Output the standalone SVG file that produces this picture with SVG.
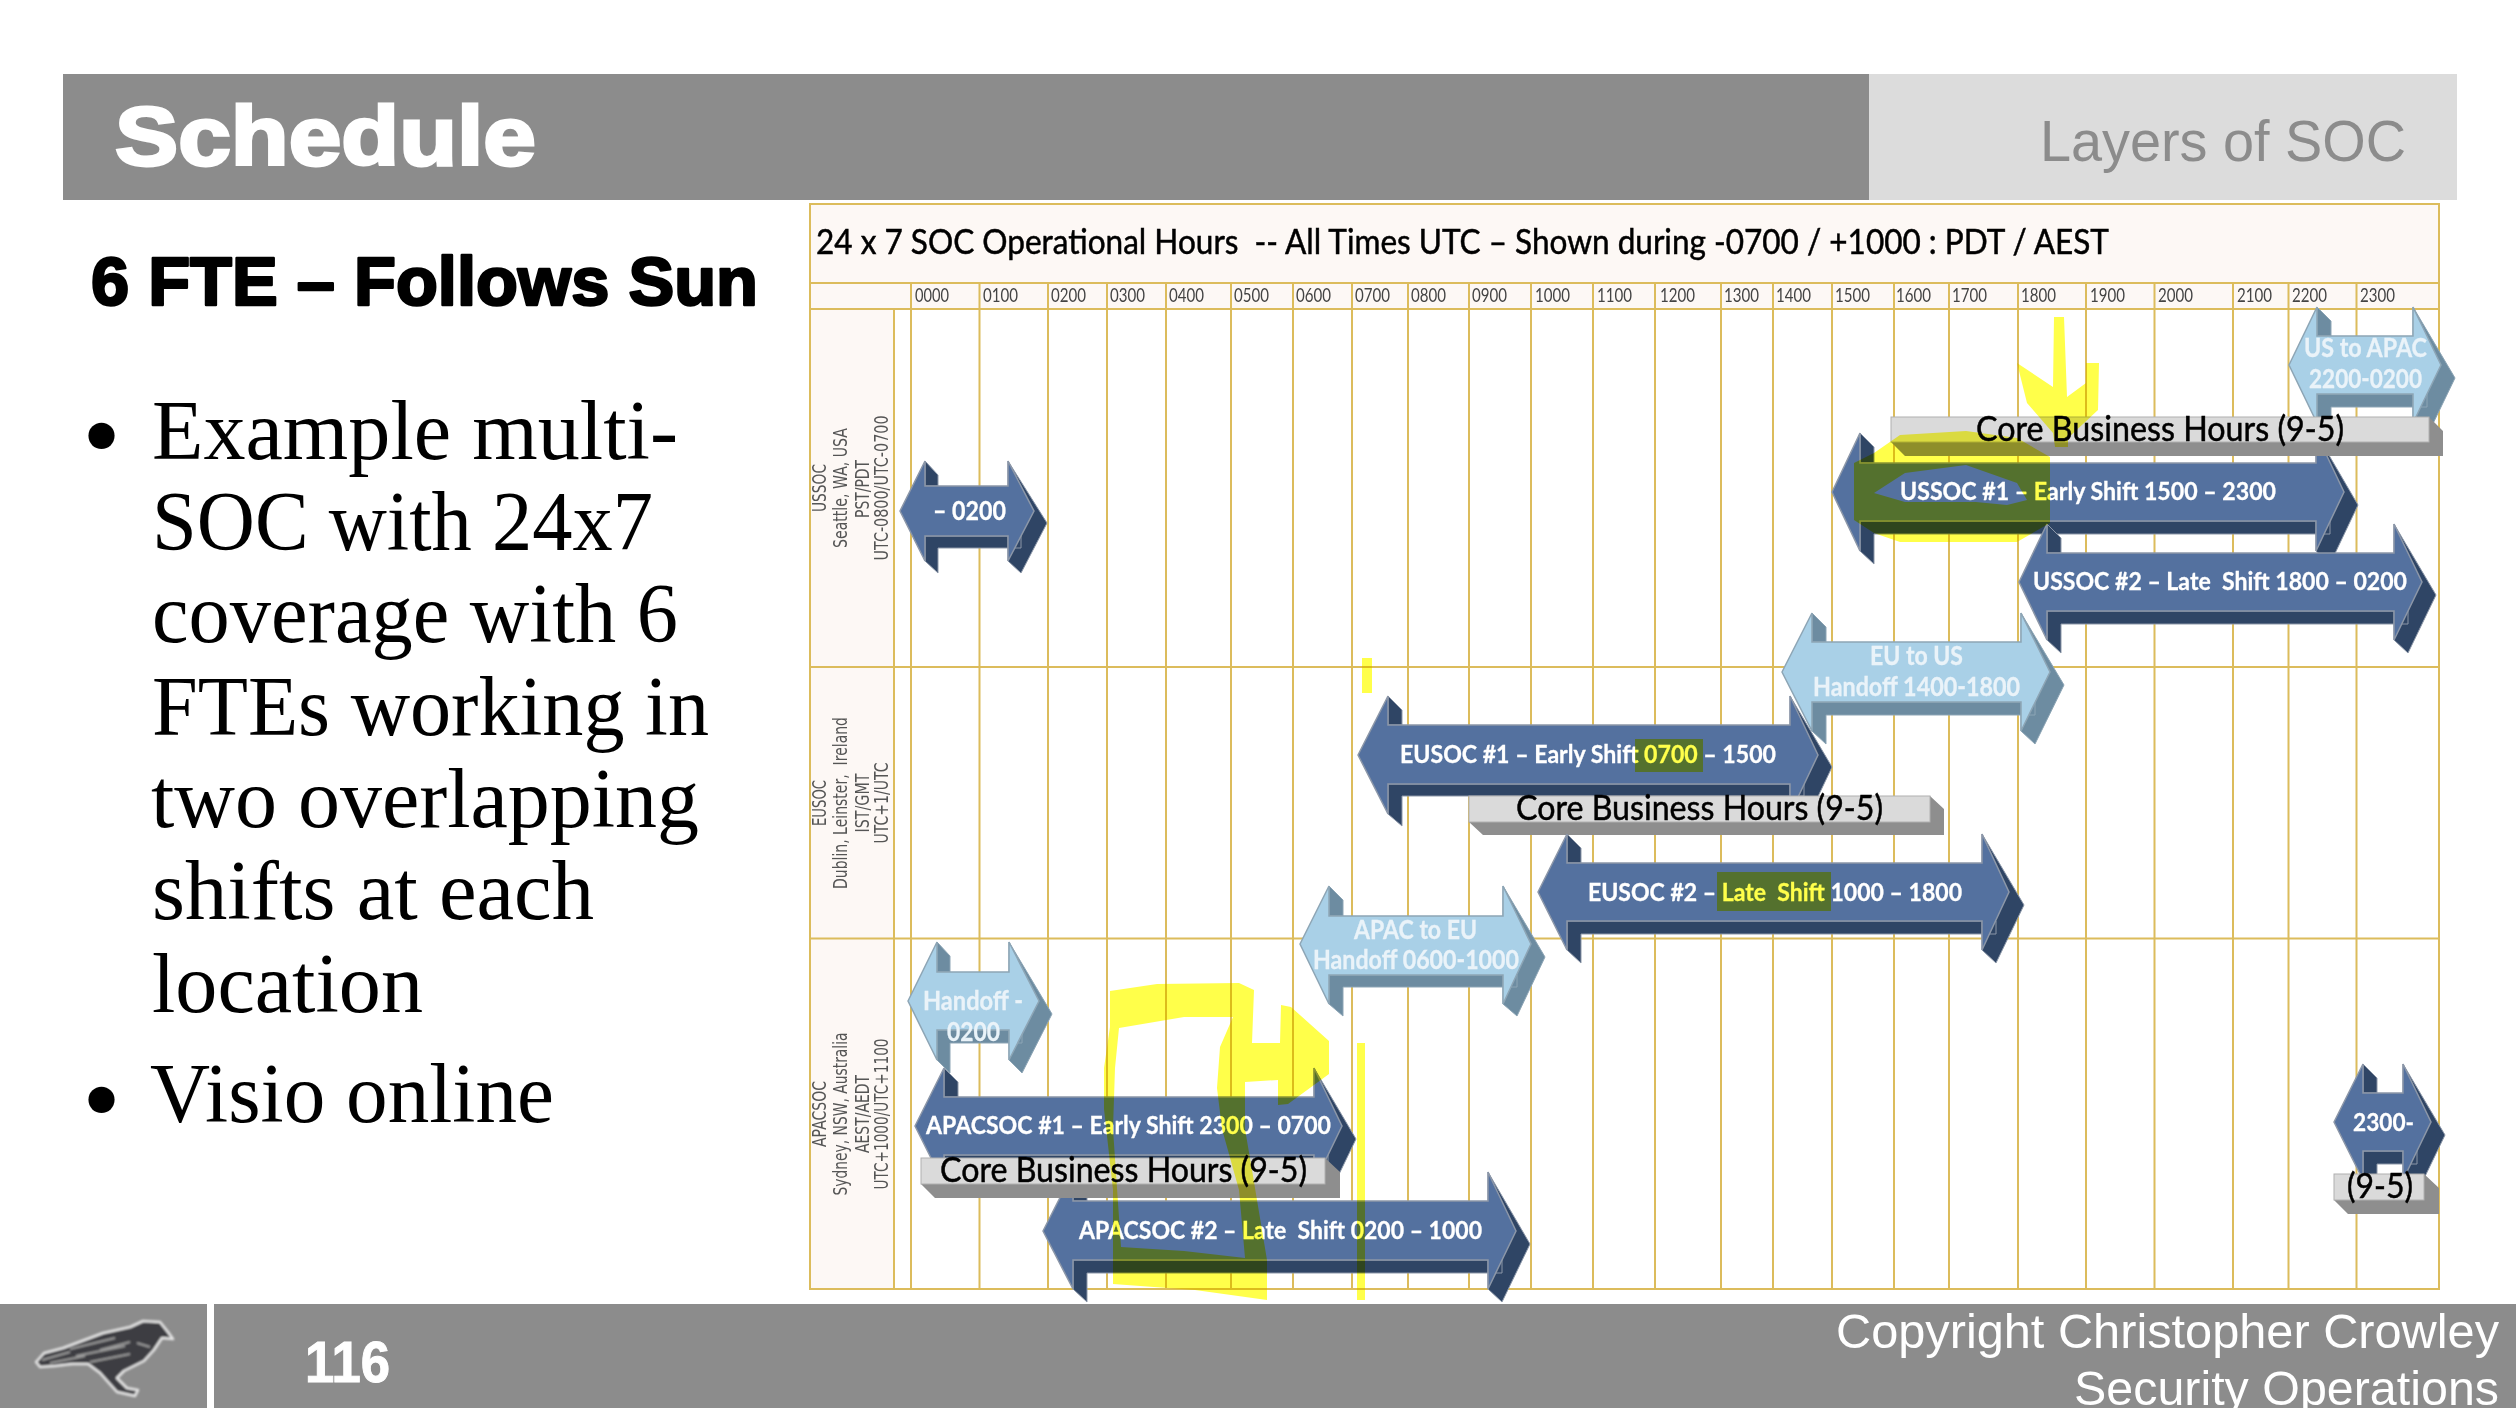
<svg xmlns="http://www.w3.org/2000/svg" width="2516" height="1408" viewBox="0 0 2516 1408">
<defs><filter id="soft" x="-10%" y="-10%" width="120%" height="120%"><feGaussianBlur stdDeviation="0.8"/></filter></defs>
<style>
.sans{font-family:"Liberation Sans",Arial,sans-serif}
.serif{font-family:"Liberation Serif","Times New Roman",serif;font-size:84px;fill:#000}
.lato{font-family:Lato,"Noto Sans",sans-serif}
.grid{stroke:#dcbc5c;stroke-width:2;fill:none}
.hr{font-family:Lato,"Noto Sans",sans-serif;font-size:20px;fill:#444}
.loc{font-family:"DejaVu Sans",Verdana,sans-serif;font-size:19px;fill:#555}
.f{fill:#54719f;stroke:#8c97a8;stroke-width:1.5}
.d{fill:#2f4565;stroke:#8c97a8;stroke-width:1}
.lf{fill:#a9d0e7;stroke:#8da5b5;stroke-width:1.5}
.ld{fill:#6d8ca1;stroke:#8da5b5;stroke-width:1}
.t{font-family:Lato,"Noto Sans",sans-serif;font-weight:700;font-size:25px;fill:#fff;stroke:#fff;stroke-width:.3}
.lt{font-family:Lato,"Noto Sans",sans-serif;font-weight:700;font-size:27px;fill:#eaf3f9;stroke:#eaf3f9;stroke-width:.3}
.cf{fill:#dadada;stroke:#b0b0b0;stroke-width:1}
.cd{fill:#8e8e8e}
.ct{font-family:Lato,"Noto Sans",sans-serif;font-size:35px;fill:#000;stroke:#000;stroke-width:.5}
.hl{fill:#ffff4a;mix-blend-mode:multiply}
</style>
<rect width="2516" height="1408" fill="#fff"/>
<g id="header">
<rect x="63" y="74" width="1806" height="126" fill="#8c8c8c"/>
<rect x="1869" y="74" width="588" height="126" fill="#dcdcdc"/>
<text class="sans" x="115" y="165" font-size="84" font-weight="700" fill="#fff" stroke="#fff" stroke-width="3" textLength="421" lengthAdjust="spacingAndGlyphs">Schedule</text>
<text class="sans" x="2040" y="160.500" font-size="57" fill="#8c8c8c" textLength="366" lengthAdjust="spacingAndGlyphs">Layers of SOC</text>
</g>
<g id="left-text">
<text class="sans" x="91" y="305" font-size="69" font-weight="700" fill="#000" stroke="#000" stroke-width="2.5" stroke-linejoin="round" textLength="667" lengthAdjust="spacingAndGlyphs">6 FTE – Follows Sun</text>
<text class="serif" x="101.500" y="472" text-anchor="middle" style="font-size:110px">•</text>
<text class="serif" x="152" y="458.500" textLength="526" lengthAdjust="spacingAndGlyphs">Example multi-</text>
<text class="serif" x="152" y="550" textLength="501" lengthAdjust="spacingAndGlyphs">SOC with 24x7</text>
<text class="serif" x="152" y="642" textLength="526" lengthAdjust="spacingAndGlyphs">coverage with 6</text>
<text class="serif" x="152" y="734.500" textLength="557" lengthAdjust="spacingAndGlyphs">FTEs working in</text>
<text class="serif" x="151" y="826.500" textLength="548" lengthAdjust="spacingAndGlyphs">two overlapping</text>
<text class="serif" x="152" y="919" textLength="442" lengthAdjust="spacingAndGlyphs">shifts at each</text>
<text class="serif" x="152" y="1011.500" textLength="271" lengthAdjust="spacingAndGlyphs">location</text>
<text class="serif" x="101.500" y="1136" text-anchor="middle" style="font-size:110px">•</text>
<text class="serif" x="150" y="1122" textLength="404" lengthAdjust="spacingAndGlyphs">Visio online</text>
</g>
<g id="table">
<rect x="810" y="204" width="1629" height="105" fill="#fdf8f5"/>
<rect x="810" y="309" width="84" height="980" fill="#fdf8f5"/>
<path class="grid" d="M810 204H2439V1289H810ZM810 283H2439M810 309H2439M810 667H2439M810 938.500H2439M894 309V1289"/>
<path class="grid" d="M911 283V1289M979.500 283V1289M1048 283V1289M1107 283V1289M1166 283V1289M1231 283V1289M1293 283V1289M1352 283V1289M1408 283V1289M1469 283V1289M1531 283V1289M1593 283V1289M1655 283V1289M1721 283V1289M1773 283V1289M1832 283V1289M1894 283V1289M1949 283V1289M2018 283V1289M2086 283V1289M2154.500 283V1289M2233 283V1289M2288.500 283V1289M2356.500 283V1289"/>
<text class="lato" x="816" y="254" font-size="35" fill="#000" stroke="#000" stroke-width=".5" textLength="1293" lengthAdjust="spacingAndGlyphs" style="white-space:pre">24 x 7 SOC Operational Hours  -- All Times UTC – Shown during -0700 / +1000 : PDT / AEST</text>
<g class="hr">
<text x="915" y="302" textLength="34" lengthAdjust="spacingAndGlyphs">0000</text>
<text x="983" y="302" textLength="35" lengthAdjust="spacingAndGlyphs">0100</text>
<text x="1051" y="302" textLength="35" lengthAdjust="spacingAndGlyphs">0200</text>
<text x="1110" y="302" textLength="35" lengthAdjust="spacingAndGlyphs">0300</text>
<text x="1169" y="302" textLength="35" lengthAdjust="spacingAndGlyphs">0400</text>
<text x="1234" y="302" textLength="35" lengthAdjust="spacingAndGlyphs">0500</text>
<text x="1296" y="302" textLength="35" lengthAdjust="spacingAndGlyphs">0600</text>
<text x="1355" y="302" textLength="35" lengthAdjust="spacingAndGlyphs">0700</text>
<text x="1411" y="302" textLength="35" lengthAdjust="spacingAndGlyphs">0800</text>
<text x="1472" y="302" textLength="35" lengthAdjust="spacingAndGlyphs">0900</text>
<text x="1535" y="302" textLength="35" lengthAdjust="spacingAndGlyphs">1000</text>
<text x="1597" y="302" textLength="35" lengthAdjust="spacingAndGlyphs">1100</text>
<text x="1660" y="302" textLength="35" lengthAdjust="spacingAndGlyphs">1200</text>
<text x="1724" y="302" textLength="35" lengthAdjust="spacingAndGlyphs">1300</text>
<text x="1776" y="302" textLength="35" lengthAdjust="spacingAndGlyphs">1400</text>
<text x="1835" y="302" textLength="35" lengthAdjust="spacingAndGlyphs">1500</text>
<text x="1896" y="302" textLength="35" lengthAdjust="spacingAndGlyphs">1600</text>
<text x="1952" y="302" textLength="35" lengthAdjust="spacingAndGlyphs">1700</text>
<text x="2021" y="302" textLength="35" lengthAdjust="spacingAndGlyphs">1800</text>
<text x="2090" y="302" textLength="35" lengthAdjust="spacingAndGlyphs">1900</text>
<text x="2158" y="302" textLength="35" lengthAdjust="spacingAndGlyphs">2000</text>
<text x="2237" y="302" textLength="35" lengthAdjust="spacingAndGlyphs">2100</text>
<text x="2292" y="302" textLength="35" lengthAdjust="spacingAndGlyphs">2200</text>
<text x="2360" y="302" textLength="35" lengthAdjust="spacingAndGlyphs">2300</text>
</g>
<g class="loc" text-anchor="middle">
<text transform="translate(826 488) rotate(-90)" textLength="48" lengthAdjust="spacingAndGlyphs">USSOC</text>
<text transform="translate(847 488) rotate(-90)" textLength="120" lengthAdjust="spacingAndGlyphs">Seattle, WA, USA</text>
<text transform="translate(869 489) rotate(-90)" textLength="58" lengthAdjust="spacingAndGlyphs">PST/PDT</text>
<text transform="translate(888 488) rotate(-90)" textLength="145" lengthAdjust="spacingAndGlyphs">UTC-0800/UTC-0700</text>
<text transform="translate(826 803) rotate(-90)" textLength="46" lengthAdjust="spacingAndGlyphs">EUSOC</text>
<text transform="translate(847 803) rotate(-90)" textLength="172" lengthAdjust="spacingAndGlyphs" style="white-space:pre">Dublin, Leinster,  Ireland</text>
<text transform="translate(869 803) rotate(-90)" textLength="59" lengthAdjust="spacingAndGlyphs">IST/GMT</text>
<text transform="translate(888 803) rotate(-90)" textLength="81" lengthAdjust="spacingAndGlyphs">UTC+1/UTC</text>
<text transform="translate(826 1114) rotate(-90)" textLength="66" lengthAdjust="spacingAndGlyphs">APACSOC</text>
<text transform="translate(847 1114) rotate(-90)" textLength="163" lengthAdjust="spacingAndGlyphs">Sydney, NSW, Australia</text>
<text transform="translate(869 1114) rotate(-90)" textLength="78" lengthAdjust="spacingAndGlyphs">AEST/AEDT</text>
<text transform="translate(888 1114) rotate(-90)" textLength="151" lengthAdjust="spacingAndGlyphs">UTC+1000/UTC+1100</text>
</g>
</g>
<g id="arrow-ussoc-wrap">
<path class="d" d="M925 461L938 475V486H925ZM1008 461L1047 523L1021 573L1008 561ZM925 536H1021V548H938V573L925 561Z"/>
<path class="f" d="M900 511L925 461V486H1008V461L1034 511L1008 561V536H925V561Z"/>
<text class="t" x="933" y="520" textLength="73" lengthAdjust="spacingAndGlyphs" style="font-size:27px">– 0200</text>
</g>
<g id="arrow-us-to-apac">
<path class="ld" d="M2317 307L2331 321V336H2317ZM2413 307L2455 378L2427 436L2413 423ZM2317 394H2427V407H2331V436L2317 423Z"/>
<path class="lf" d="M2289 365L2317 307V336H2413V307L2441 365L2413 423V394H2317V423Z"/>
<text class="lt" x="2304" y="357" textLength="123" lengthAdjust="spacingAndGlyphs">US to APAC</text>
<text class="lt" x="2309" y="388" textLength="113" lengthAdjust="spacingAndGlyphs">2200-0200</text>
</g>
<g id="arrow-eusoc-1">
<path class="d" d="M1388 696L1402 710V725H1388ZM1790 696L1832 767L1804 826L1790 814ZM1388 784H1804V796H1402V826L1388 814Z"/>
<path class="f" d="M1358 755L1388 696V725H1790V696L1818 755L1790 814V784H1388V814Z"/>
<text class="t" x="1400" y="763" textLength="376" lengthAdjust="spacingAndGlyphs">EUSOC #1 – Early Shift 0700 – 1500</text>
</g>
<g id="arrow-eu-to-us">
<path class="ld" d="M1812 613L1826 627V642H1812ZM2021 613L2064 685L2035 744L2021 731ZM1812 702H2035V715H1826V744L1812 731Z"/>
<path class="lf" d="M1782 672L1812 613V642H2021V613L2050 672L2021 731V702H1812V731Z"/>
<text class="lt" x="1870" y="665" textLength="93" lengthAdjust="spacingAndGlyphs">EU to US</text>
<text class="lt" x="1813" y="696" textLength="207" lengthAdjust="spacingAndGlyphs">Handoff 1400-1800</text>
</g>
<g id="arrow-ussoc-1">
<path class="d" d="M1860 433L1874 447V463H1860ZM2316 433L2358 505L2330 564L2316 551ZM1860 521H2330V534H1874V564L1860 551Z"/>
<path class="f" d="M1832 492L1860 433V463H2316V433L2344 492L2316 551V521H1860V551Z"/>
<text class="t" x="1900" y="500" textLength="376" lengthAdjust="spacingAndGlyphs">USSOC #1 – Early Shift 1500 – 2300</text>
</g>
<g id="arrow-ussoc-2">
<path class="d" d="M2047 524L2061 538V553H2047ZM2394 524L2436 595L2408 653L2394 640ZM2047 611H2408V624H2061V653L2047 640Z"/>
<path class="f" d="M2019 582L2047 524V553H2394V524L2422 582L2394 640V611H2047V640Z"/>
<text class="t" x="2033" y="590" textLength="374" lengthAdjust="spacingAndGlyphs" style="white-space:pre">USSOC #2 – Late  Shift 1800 – 0200</text>
</g>
<g id="core-us">
<path class="cd" d="M1891 442L1905 456H2443V431L2429 417V442Z"/>
<rect class="cf" x="1891" y="417" width="538" height="25"/>
<text class="ct" x="1976" y="441" textLength="368" lengthAdjust="spacingAndGlyphs">Core Business Hours (9-5)</text>
</g>
<g id="core-eu">
<path class="cd" d="M1469 822L1483 835H1944V809L1930 796V822Z"/>
<rect class="cf" x="1469" y="796" width="461" height="26"/>
<text class="ct" x="1516" y="820" textLength="367" lengthAdjust="spacingAndGlyphs">Core Business Hours (9-5)</text>
</g>
<g id="arrow-apac-to-eu">
<path class="ld" d="M1329 886L1343 900V916H1329ZM1503 886L1545 957L1517 1016L1503 1004ZM1329 975H1517V987H1343V1016L1329 1004Z"/>
<path class="lf" d="M1300 944L1329 886V916H1503V886L1531 944L1503 1004V975H1329V1004Z"/>
<text class="lt" x="1354" y="939" textLength="123" lengthAdjust="spacingAndGlyphs">APAC to EU</text>
<text class="lt" x="1313" y="969" textLength="206" lengthAdjust="spacingAndGlyphs">Handoff 0600-1000</text>
</g>
<g id="arrow-eusoc-2">
<path class="d" d="M1567 834L1581 848V863H1567ZM1982 834L2024 905L1996 963L1982 950ZM1567 921H1996V934H1581V963L1567 950Z"/>
<path class="f" d="M1538 892L1567 834V863H1982V834L2009 892L1982 950V921H1567V950Z"/>
<text class="t" x="1588" y="901" textLength="374" lengthAdjust="spacingAndGlyphs" style="white-space:pre">EUSOC #2 – Late  Shift 1000 – 1800</text>
</g>
<g id="arrow-handoff">
<path class="ld" d="M937 942L950 956V972H937ZM1009 942L1052 1014L1022 1073L1009 1060ZM937 1030H1022V1043H950V1073L937 1060Z"/>
<path class="lf" d="M908 1001L937 942V972H1009V942L1039 1001L1009 1060V1030H937V1060Z"/>
<text class="lt" x="923" y="1010" textLength="100" lengthAdjust="spacingAndGlyphs">Handoff -</text>
<text class="lt" x="947" y="1041" textLength="53" lengthAdjust="spacingAndGlyphs">0200</text>
</g>
<g id="arrow-apacsoc-2">
<path class="d" d="M1073 1172L1087 1186V1201H1073ZM1488 1172L1530 1244L1502 1302L1488 1289ZM1073 1260H1502V1273H1087V1302L1073 1289Z"/>
<path class="f" d="M1043 1231L1073 1172V1201H1488V1172L1516 1231L1488 1289V1260H1073V1289Z"/>
<text class="t" x="1079" y="1239" textLength="403" lengthAdjust="spacingAndGlyphs" style="white-space:pre">APACSOC #2 – Late  Shift 0200 – 1000</text>
</g>
<g id="arrow-apacsoc-1">
<path class="d" d="M944 1068L958 1082V1097H944ZM1314 1068L1356 1139L1328 1197L1314 1184ZM944 1155H1328V1168H958V1197L944 1184Z"/>
<path class="f" d="M915 1126L944 1068V1097H1314V1068L1342 1126L1314 1184V1155H944V1184Z"/>
<text class="t" x="926" y="1134" textLength="405" lengthAdjust="spacingAndGlyphs">APACSOC #1 – Early Shift 2300 – 0700</text>
</g>
<g id="core-apac">
<path class="cd" d="M921 1184L935 1198H1340V1172L1325 1158V1184Z"/>
<rect class="cf" x="921" y="1158" width="404" height="26"/>
<text class="ct" x="940" y="1182" textLength="367" lengthAdjust="spacingAndGlyphs">Core Business Hours (9-5)</text>
</g>
<g id="arrow-2300">
<path class="d" d="M2363 1064L2377 1078V1093H2363ZM2403 1064L2445 1135L2417 1193L2403 1180ZM2363 1151H2417V1164H2377V1193L2363 1180Z"/>
<path class="f" d="M2334 1122L2363 1064V1093H2403V1064L2431 1122L2403 1180V1151H2363V1180Z"/>
<text class="t" x="2353" y="1131" textLength="61" lengthAdjust="spacingAndGlyphs">2300-</text>
</g>
<g id="core-small">
<path class="cd" d="M2334 1200L2348 1214H2439V1188L2424 1174V1200Z"/>
<rect class="cf" x="2334" y="1174" width="90" height="26"/>
<text class="ct" x="2347" y="1198" textLength="66" lengthAdjust="spacingAndGlyphs">(9-5)</text>
</g>
<g id="highlighter">
<rect class="hl" x="1635" y="739" width="68" height="33"/>
<rect class="hl" x="1717" y="872" width="114" height="39"/>
<rect class="hl" x="1362" y="658" width="10" height="35"/>
<rect class="hl" x="1357" y="1043" width="8" height="257"/>
<path class="hl" d="M2017 363L2053 387L2054 317H2064L2067 397L2086 383V363H2099L2098 410L2068 438V447H2055L2053 433L2027 403Z"/>
<path class="hl" fill-rule="evenodd" d="M1874 453L1900 435L1966 431L2017 438L2050 457V523L2017 542H1900L1874 533L1854 520V463ZM1874 493L1905 473L1966 465L2017 483L2027 500L2007 505L1976 502H1905Z"/>
<path class="hl" fill-rule="evenodd" d="M1110 991L1157 984L1239 983L1254 990L1252 1043H1280L1281 1005L1291 1007L1329 1041V1074L1288 1104L1278 1105V1080L1245 1082V1129L1252 1170L1267 1260V1300L1195 1290L1113 1284V1190L1104 1109V1068L1110 1027ZM1119 1028L1184 1017H1233L1220 1047L1217 1088L1222 1129L1239 1190L1245 1258L1184 1251L1121 1247L1113 1129L1115 1068Z"/>
</g>
<g id="footer">
<rect x="0" y="1304" width="207" height="104" fill="#8c8c8c"/>
<rect x="214" y="1304" width="2302" height="104" fill="#8c8c8c"/>
<text class="sans" x="305" y="1382" font-size="57" font-weight="700" fill="#fff" stroke="#fff" stroke-width="1" textLength="85" lengthAdjust="spacingAndGlyphs">116</text>
<text class="sans" x="1836" y="1348" font-size="48" fill="#fff" textLength="663" lengthAdjust="spacingAndGlyphs">Copyright Christopher Crowley</text>
<text class="sans" x="2074" y="1405" font-size="48" fill="#fff" textLength="425" lengthAdjust="spacingAndGlyphs">Security Operations</text>
<g id="crow" filter="url(#soft)">
<path d="M36 1362L44 1353L63 1348L103 1333L130 1327L143 1321L160 1322L168 1332L173 1339L162 1338L154 1350L144 1361L124 1371L117 1378L127 1388L138 1390L135 1396L117 1392L108 1382L100 1373L88 1364L72 1364L55 1366L40 1367Z" fill="#3e3e42" stroke="#e6e6e6" stroke-width="2.500" stroke-linejoin="round"/>
<path d="M42 1360L70 1352M50 1363L85 1356M70 1349L115 1338M76 1356L125 1346M90 1362L130 1354M100 1350L130 1342M137 1343L150 1347" stroke="#9a9a9a" stroke-width="2" fill="none"/>
</g>
</g>
</svg>
